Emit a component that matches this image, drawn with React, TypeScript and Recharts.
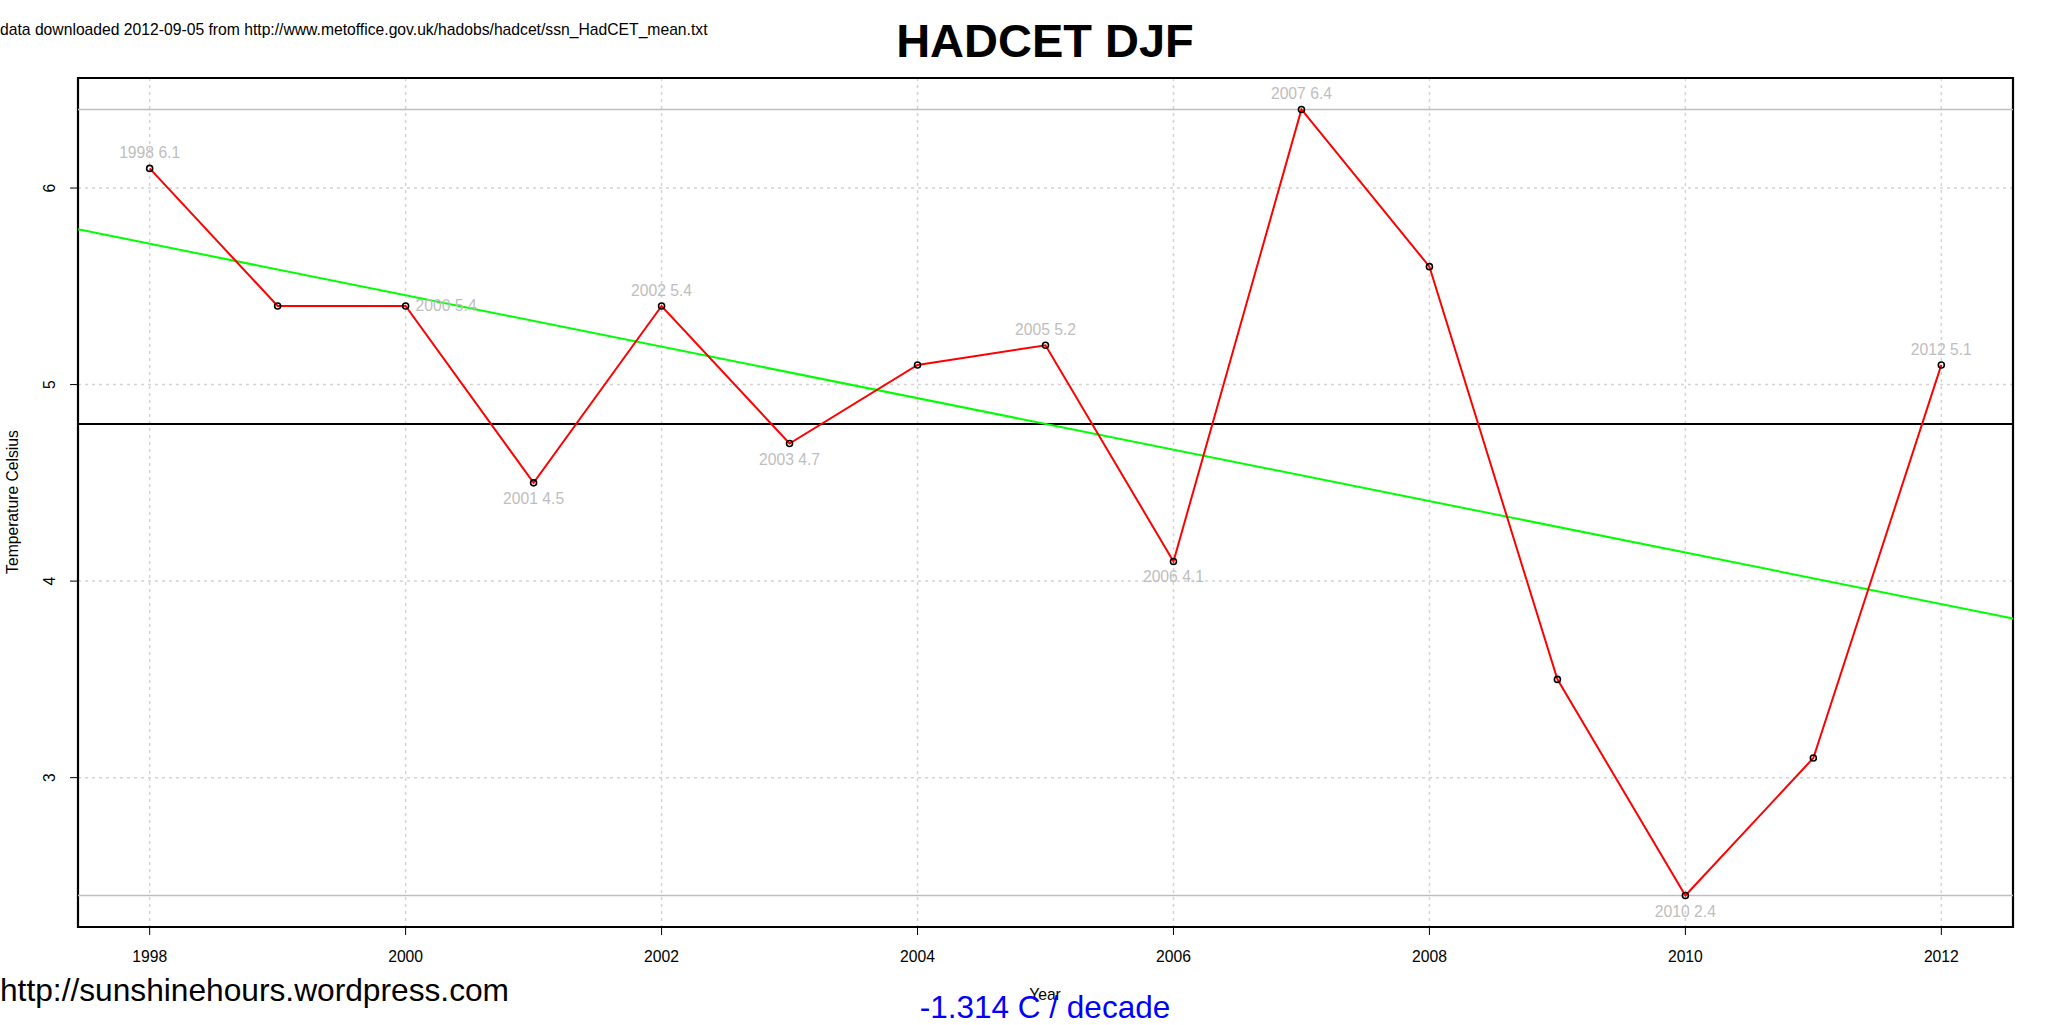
import { CartesianGrid, ComposedChart, Line, ReferenceArea, ReferenceLine, XAxis, YAxis } from "recharts";

const years = [1998, 1999, 2000, 2001, 2002, 2003, 2004, 2005, 2006, 2007, 2008, 2009, 2010, 2011, 2012];
const temps = [6.1, 5.4, 5.4, 4.5, 5.4, 4.7, 5.1, 5.2, 4.1, 6.4, 5.6, 3.5, 2.4, 3.1, 5.1];
const xTicks = [1998, 2000, 2002, 2004, 2006, 2008, 2010, 2012];
const yTicks = [3, 4, 5, 6];
const xDomain = [1997.44, 2012.56];
const yDomain = [2.24, 6.56];
const meanTemp = 4.8;
const maxTemp = 6.4;
const minTemp = 2.4;
const trendStart = 5.79;
const trendEnd = 3.81;
const labelAbove = [1998, 2002, 2005, 2007, 2012];
const labelBelow = [2001, 2003, 2006, 2010];
const labelRight = [2000];

const title = "HADCET DJF";
const source = "data downloaded 2012-09-05 from http://www.metoffice.gov.uk/hadobs/hadcet/ssn_HadCET_mean.txt";
const site = "http://sunshinehours.wordpress.com";
const trendText = "-1.314 C / decade";

const W = 2053;
const H = 1025;
const FONT = "'Liberation Sans', Arial, sans-serif";
const LABEL_GRAY = "#bebebe";

const data = years.map((year, i) => ({ year, temp: temps[i] }));

function XTick(props: any) {
  const { x, y, payload } = props;
  return (
    <text x={x} y={y + 27} textAnchor="middle" fontFamily={FONT} fontSize={15.7} fill="#000">
      {payload.value}
    </text>
  );
}

function YTick(props: any) {
  const { x, y, payload } = props;
  return (
    <text
      transform={`translate(${x - 15},${y}) rotate(-90)`}
      textAnchor="middle"
      fontFamily={FONT}
      fontSize={15.7}
      fill="#000"
    >
      {payload.value}
    </text>
  );
}

function PointDot(props: any) {
  const { cx, cy, payload, index } = props;
  const text = `${payload.year} ${payload.temp}`;
  let label = null;
  if (labelAbove.includes(payload.year)) {
    label = (
      <text x={cx} y={cy - 10} textAnchor="middle" fontFamily={FONT} fontSize={15.7} fill={LABEL_GRAY}>
        {text}
      </text>
    );
  } else if (labelBelow.includes(payload.year)) {
    label = (
      <text x={cx} y={cy + 21} textAnchor="middle" fontFamily={FONT} fontSize={15.7} fill={LABEL_GRAY}>
        {text}
      </text>
    );
  } else if (labelRight.includes(payload.year)) {
    label = (
      <text x={cx + 10} y={cy + 5.5} textAnchor="start" fontFamily={FONT} fontSize={15.7} fill={LABEL_GRAY}>
        {text}
      </text>
    );
  }
  return (
    <g key={`dot-${index}`}>
      <circle cx={cx} cy={cy} r={3} fill="none" stroke="#000" strokeWidth={1.6} />
      {label}
    </g>
  );
}

export default function App() {
  return (
    <div style={{ position: "absolute", left: 0, top: 0, width: W, height: H, background: "#fff" }}>
      <ComposedChart width={W} height={H} data={data} margin={{ top: 78, right: 40, bottom: 38, left: 8 }}>
        <CartesianGrid stroke="#d3d3d3" strokeDasharray="3 4" strokeWidth={1.5} />
        <XAxis
          dataKey="year"
          type="number"
          domain={xDomain}
          ticks={xTicks}
          allowDataOverflow
          height={60}
          axisLine={false}
          tickSize={8}
          tickMargin={0}
          tickLine={{ stroke: "#000", strokeWidth: 1 }}
          tick={<XTick />}
        />
        <YAxis
          type="number"
          domain={yDomain}
          ticks={yTicks}
          allowDataOverflow
          width={70}
          axisLine={false}
          tickSize={8}
          tickMargin={0}
          tickLine={{ stroke: "#000", strokeWidth: 1 }}
          tick={<YTick />}
        />
        <ReferenceLine y={maxTemp} stroke="#bebebe" strokeWidth={1.5} />
        <ReferenceLine y={minTemp} stroke="#bebebe" strokeWidth={1.5} />
        <ReferenceLine y={meanTemp} stroke="#000" strokeWidth={2} />
        <ReferenceLine
          segment={[
            { x: xDomain[0], y: trendStart },
            { x: xDomain[1], y: trendEnd },
          ]}
          stroke="#00ff00"
          strokeWidth={2}
          ifOverflow="hidden"
        />
        <Line
          dataKey="temp"
          type="linear"
          stroke="#ff0000"
          strokeWidth={2}
          dot={<PointDot />}
          activeDot={false}
          isAnimationActive={false}
        />
        <ReferenceArea
          x1={xDomain[0]}
          x2={xDomain[1]}
          y1={yDomain[0]}
          y2={yDomain[1]}
          fill="none"
          fillOpacity={0}
          stroke="#000"
          strokeWidth={2.2}
          ifOverflow="visible"
        />
      </ComposedChart>
      <svg
        width={W}
        height={H}
        style={{ position: "absolute", left: 0, top: 0, pointerEvents: "none" }}
      >
        <text x={0} y={35} fontFamily={FONT} fontSize={15.7} fill="#000">
          {source}
        </text>
        <text x={1045} y={57} textAnchor="middle" fontFamily={FONT} fontSize={47} fontWeight="bold" fill="#000">
          {title}
        </text>
        <text transform="translate(18,502) rotate(-90)" textAnchor="middle" fontFamily={FONT} fontSize={15.7} fill="#000">
          Temperature Celsius
        </text>
        <text x={1045} y={1000} textAnchor="middle" fontFamily={FONT} fontSize={15.7} fill="#000">
          Year
        </text>
        <text x={0} y={1001} fontFamily={FONT} fontSize={31.7} fill="#000">
          {site}
        </text>
        <text x={1045} y={1018} textAnchor="middle" fontFamily={FONT} fontSize={31.5} fill="#0000ff">
          {trendText}
        </text>
      </svg>
    </div>
  );
}
